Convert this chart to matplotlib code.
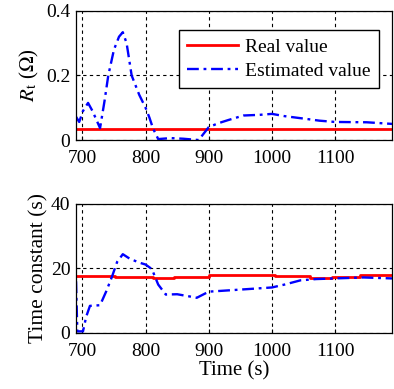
"""Rt and time constant estimation vs real value"""
import numpy as np
import matplotlib
matplotlib.use('Agg')
import matplotlib.pyplot as plt

plt.rcParams['font.family'] = ['Liberation Serif', 'DejaVu Serif']
plt.rcParams['mathtext.fontset'] = 'stix'

# top panel: R_t (ohm)
rt_real_t = [690, 1190]
rt_real = [0.035, 0.035]
rt_est_t = [690, 695, 701, 709, 716, 728, 735, 741, 750, 758, 764, 770,
            778, 790, 800, 806, 812, 820, 840, 860, 884, 892, 900, 915,
            931, 955, 980, 1000, 1020, 1052, 1075, 1100, 1150, 1190]
rt_est = [0.072, 0.056, 0.09, 0.115, 0.09, 0.037, 0.12, 0.2, 0.28, 0.32,
          0.334, 0.3, 0.2, 0.14, 0.1, 0.07, 0.035, 0.003, 0.006, 0.004,
          0.0, 0.02, 0.04, 0.052, 0.062, 0.076, 0.078, 0.081, 0.074, 0.066,
          0.06, 0.056, 0.055, 0.05]

# bottom panel: time constant (s)
tc_real_t = [690, 752, 752, 812, 812, 845, 845, 900, 900, 1005, 1005,
             1060, 1060, 1095, 1095, 1140, 1140, 1190]
tc_real = [17.8, 17.8, 17.4, 17.4, 17.0, 17.0, 17.4, 17.4, 17.9, 17.9,
           17.5, 17.5, 17.1, 17.1, 17.3, 17.3, 17.9, 17.9]
tc_est_t = [690, 692, 701, 706, 712, 720, 728, 738, 747, 755, 764, 775,
            790, 800, 810, 820, 832, 850, 873, 881, 890, 900, 947, 1000,
            1020, 1045, 1070, 1100, 1145, 1190]
tc_est = [16.0, 0.5, 0.5, 5.0, 8.4, 8.5, 8.6, 13.0, 17.5, 22.0, 24.4,
          23.0, 21.8, 21.2, 19.8, 15.0, 11.9, 12.0, 11.2, 10.9, 11.8, 12.8,
          13.4, 14.1, 15.0, 16.3, 16.7, 16.9, 17.2, 16.9]

xticks = [700, 800, 900, 1000, 1100]

fig = plt.figure(figsize=(3.94, 3.89), dpi=100)
ax1 = fig.add_axes([0.193, 0.640, 0.802, 0.332])
ax2 = fig.add_axes([0.193, 0.144, 0.802, 0.332])

ax1.plot(rt_real_t, rt_real, color='#ff0000', linewidth=2, label='Real value')
ax1.plot(rt_est_t, rt_est, color='#0000ff', linestyle=(0, (5, 2, 1.2, 2)),
         linewidth=1.7, label='Estimated value')
ax1.set_ylim(0, 0.4)
ax1.set_yticks([0, 0.2, 0.4])
ax1.set_yticklabels(['0', '0.2', '0.4'])
ax1.set_ylabel(r'$R_{\rm t}$ ($\Omega$)', fontsize=15, labelpad=4)
leg = ax1.legend(loc='upper right', bbox_to_anchor=(0.958, 0.85), fontsize=14,
                 fancybox=False, framealpha=1, edgecolor='black',
                 handlelength=2.6, handletextpad=0.4, borderpad=0.4,
                 labelspacing=0.35, borderaxespad=0)
leg.get_frame().set_linewidth(1.0)

ax2.plot(tc_real_t, tc_real, color='#ff0000', linewidth=2)
ax2.plot(tc_est_t, tc_est, color='#0000ff', linestyle=(0, (5, 2, 1.2, 2)),
         linewidth=1.7)
ax2.set_ylim(0, 40)
ax2.set_yticks([0, 20, 40])
ax2.set_ylabel('Time constant (s)', fontsize=15.5, labelpad=2)
ax2.set_xlabel('Time (s)', fontsize=15, labelpad=1)

for ax in (ax1, ax2):
    ax.set_xlim(690, 1190)
    ax.set_xticks(xticks)
    ax.grid(True, color='black', linestyle=(0, (3, 3)), linewidth=0.8)
    ax.tick_params(direction='in', length=3, labelsize=14)
    ax.tick_params(axis='x', pad=7)
    ax.tick_params(axis='y', pad=4)
    for s in ax.spines.values():
        s.set_linewidth(0.9)

plt.savefig('out.png', dpi=100)
